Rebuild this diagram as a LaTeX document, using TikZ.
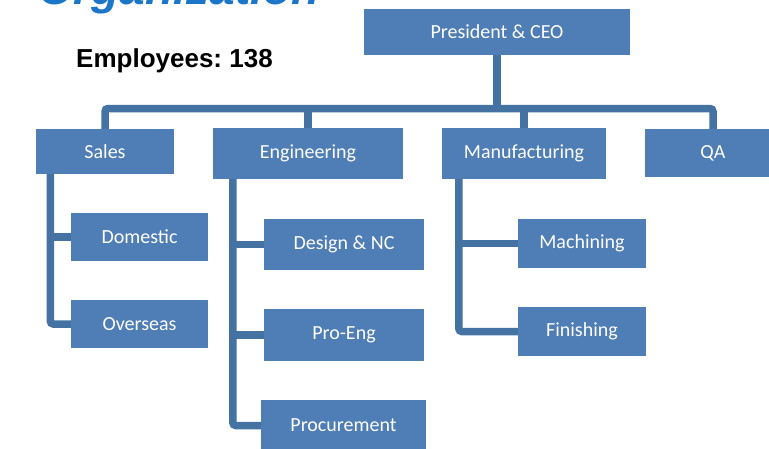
\documentclass[tikz,border=0pt]{standalone}
\usepackage{fontspec}
\setmainfont{Carlito}
\newfontfamily\arialfont{Liberation Sans}
\usetikzlibrary{positioning,calc}
\definecolor{boxblue}{RGB}{79,125,181}
\definecolor{linkblue}{RGB}{68,114,162}
\definecolor{titleblue}{RGB}{27,117,200}
\frenchspacing

\begin{document}
\begin{tikzpicture}[x=1pt,y=-1pt,
  unit/.style={fill=boxblue,text=white,inner sep=0pt,font=\fontsize{20}{22}\selectfont},
  link/.style={draw=linkblue,line width=7.5pt},
  corner/.style={link,rounded corners=3pt}]
\useasboundingbox (0,0) rectangle (769,448);
\clip (0,0) rectangle (769,448);
% heading
\node[anchor=base west,inner sep=0pt,text=titleblue,font=\arialfont\bfseries\itshape\fontsize{46}{50}\selectfont] (title) at (38,4) {Organization};
\node[anchor=base west,inner sep=0pt,font=\arialfont\bfseries\fontsize{26}{30}\selectfont] (staff) at (76,67) {Employees: 138};
% top level
\node[unit,minimum width=266,minimum height=46] (ceo) at (497,32) {President \& CEO};
\node[unit,minimum width=138,minimum height=45] (sales) at (105,151.5) {Sales};
\node[unit,minimum width=190,minimum height=51] (eng) at (308,153.5) {Engineering};
\node[unit,minimum width=164,minimum height=51] (mfg) at (524,153.5) {Manufacturing};
\node[unit,minimum width=136,minimum height=48] (qa) at (713,153) {QA};
% second level
\node[unit,minimum width=137,minimum height=48] (domestic) at (139.5,237) {Domestic};
\node[unit,minimum width=137,minimum height=48] (overseas) at (139.5,324) {Overseas};
\node[unit,minimum width=160,minimum height=51] (design) at (344,244.5) {Design \& NC};
\node[unit,minimum width=160,minimum height=52] (proeng) at (344,335) {Pro-Eng};
\node[unit,minimum width=165,minimum height=51] (procure) at (343.5,425.5) {Procurement};
\node[unit,minimum width=128,minimum height=49] (machining) at (582,243.5) {Machining};
\node[unit,minimum width=128,minimum height=49] (finishing) at (582,331.5) {Finishing};
% bus under the CEO
\coordinate (bus) at (497,108.5);
\draw[link] (ceo.south) -- (bus);
\draw[corner] (sales.north) |- (bus) -| (qa.north);
\foreach \n in {eng,mfg} {\draw[link] (\n.north |- bus) -- (\n.north);}
% spines
\coordinate (ss) at ([xshift=14.5]sales.south west);
\draw[corner] (ss) |- (overseas.west);
\draw[link] (ss |- domestic.west) -- (domestic.west);
\coordinate (es) at ([xshift=20]eng.south west);
\draw[corner] (es) |- (procure.west);
\foreach \n in {design,proeng} {\draw[link] (es |- \n.west) -- (\n.west);}
\coordinate (ms) at ([xshift=17]mfg.south west);
\draw[corner] (ms) |- (finishing.west);
\draw[link] (ms |- machining.west) -- (machining.west);
\end{tikzpicture}
\end{document}
